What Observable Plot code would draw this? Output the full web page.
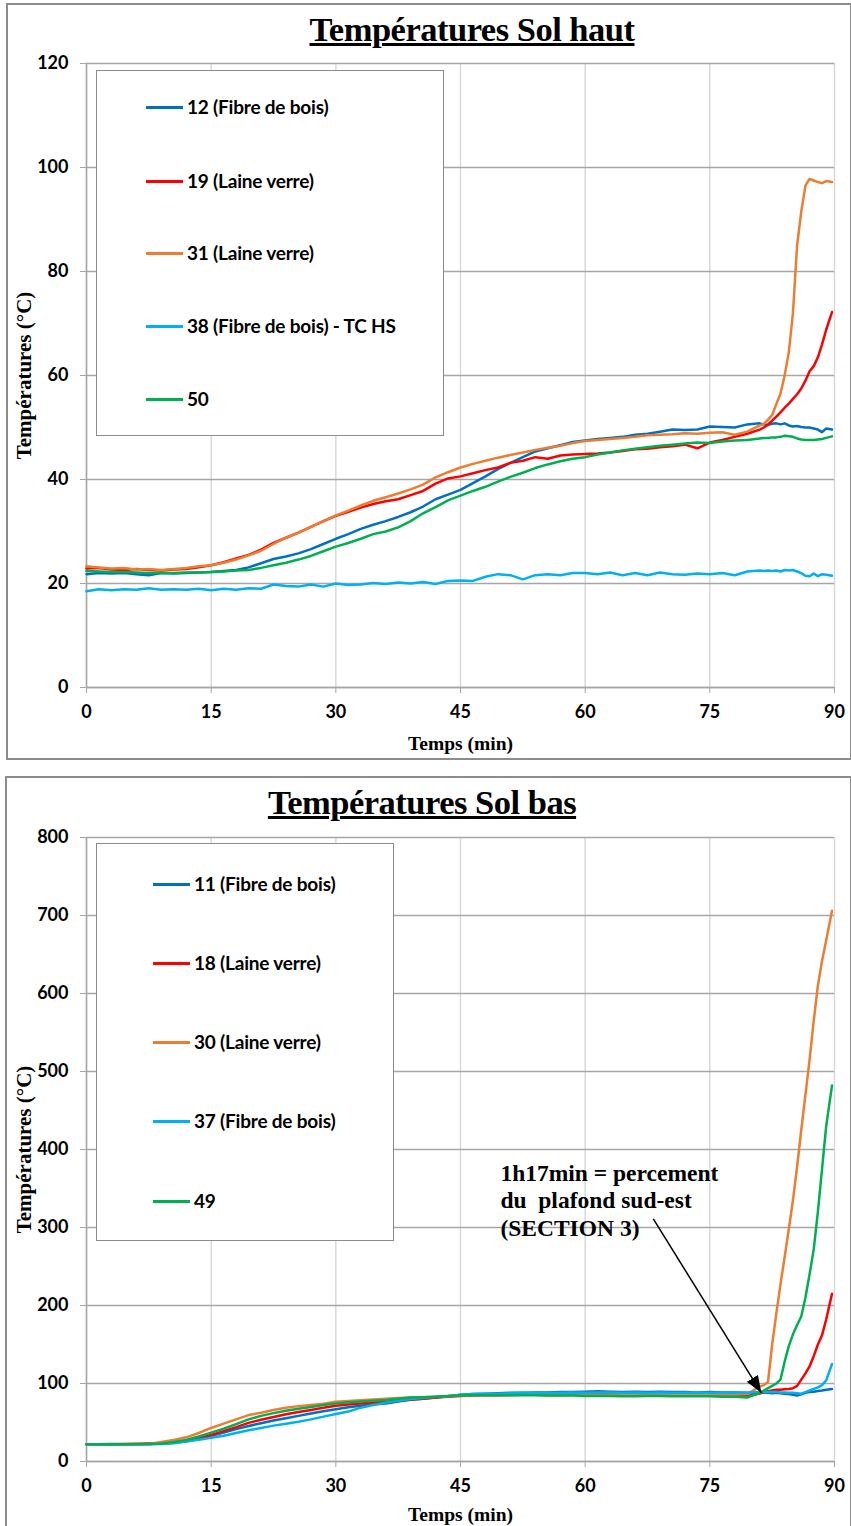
<!DOCTYPE html>
<html><head><meta charset="utf-8">
<script src="https://cdn.jsdelivr.net/npm/d3@7"></script>
<script src="https://cdn.jsdelivr.net/npm/@observablehq/plot@0.6"></script>
<style>
body{margin:0;background:#fff;}
#page{position:relative;width:851px;height:1526px;overflow:hidden;background:#fff;}
.panel{position:absolute;border:2px solid #8c8c8c;box-sizing:border-box;}
.title{position:absolute;font-family:"Liberation Serif","Times New Roman",serif;font-weight:bold;font-size:34.5px;line-height:38px;text-decoration:underline;text-decoration-thickness:3px;white-space:nowrap;transform:translateX(-50%);letter-spacing:-0.5px;}
.chart{position:absolute;left:0;}
.legend{position:absolute;background:#fff;border:1px solid #8c8c8c;box-sizing:border-box;}
.item{position:absolute;left:0;font-family:Lato,sans-serif;font-weight:bold;font-size:19px;line-height:22px;white-space:nowrap;transform:translateY(-50%);display:flex;align-items:center;letter-spacing:-0.2px;}
.item span.sw{display:inline-block;height:3px;width:37px;margin-right:4px;}
g[aria-label="x-axis label"] text{font-family:"Liberation Serif","Times New Roman",serif;font-weight:bold;font-size:19.5px;}
g[aria-label="y-axis label"] text{font-family:"Liberation Serif","Times New Roman",serif;font-weight:bold;font-size:21px;}
</style></head>
<body><div id="page"></div>
<script>
// ---- data ----
const minutes = [0,1.5,3,4.5,6,7.5,9,10.5,12,13.5,15,16.5,18,19.5,21,22.5,24,25.5,27,28.5,30,31.5,33,34.5,36,37.5,39,40.5,42,43.5,45,46.5,48,49.5,51,52.5,54,55.5,57,58.5,60,61.5,63,64.5,66,67.5,69,70.5,72,73.5,75,76.5,78,79.5,81,81.5,82,82.5,83,83.5,84,84.5,85,85.5,86,86.5,87,87.5,88,88.5,89,89.7];

const haut12 = [21.8,22.0,21.9,22.0,21.8,21.6,22.0,21.9,22.0,22.1, 22.2,22.4,22.6,23.1,23.9,24.7,25.2,25.8,26.6,27.6, 28.6,29.5,30.5,31.3,32.0,32.8,33.7,34.8,36.2,37.1, 38.0,39.3,40.6,42.0,43.2,44.3,45.4,46.0,46.6,47.2, 47.5,47.8,48.0,48.2,48.6,48.8,49.2,49.6,49.5,49.6, 50.2,50.1,50.0,50.6,50.8,50.6,50.5,50.7,50.8,50.6, 50.8,50.4,50.2,50.3,50.1,50.0,50.0,49.8,49.6,49.1, 49.8,49.6];
const haut19 = [22.9,23.0,22.7,22.6,22.8,22.6,22.5,22.7,22.8,23.1, 23.5,24.1,24.8,25.5,26.5,27.8,28.8,29.8,30.9,32.0, 33.0,33.8,34.6,35.3,35.8,36.2,37.0,37.8,39.2,40.2, 40.6,41.2,41.8,42.3,43.2,43.6,44.3,44.0,44.6,44.8, 44.9,45.0,45.2,45.5,45.8,45.9,46.2,46.4,46.7,46.0, 47.1,47.6,48.2,48.8,49.6,50.0,50.6,51.3,52.1,52.9, 53.8,54.6,55.5,56.4,57.5,59.0,60.8,61.8,63.5,66.0, 68.8,72.2];
const haut31 = [23.3,23.1,22.9,23.0,22.7,22.8,22.6,22.8,23.0,23.3, 23.5,24.0,24.6,25.4,26.3,27.6,28.8,29.8,30.9,32.0, 33.1,34.0,35.0,35.9,36.6,37.3,38.1,39.0,40.4,41.4, 42.3,43.0,43.6,44.2,44.7,45.2,45.7,46.1,46.5,47.0, 47.4,47.6,47.8,48.0,48.2,48.5,48.6,48.7,48.9,48.8, 49.0,49.1,48.6,49.2,50.4,50.7,51.5,52.4,54.5,56.5, 60.0,64.5,72.0,85.0,91.5,96.5,97.8,97.5,97.2,97.0, 97.4,97.2];
const haut38 = [18.5,18.9,18.7,18.9,18.8,19.1,18.8,18.9,18.8,19.0, 18.7,19.0,18.8,19.1,19.0,19.8,19.5,19.4,19.8,19.4, 20.0,19.7,19.8,20.1,19.9,20.2,20.0,20.3,19.9,20.5, 20.6,20.5,21.3,21.8,21.6,20.8,21.6,21.8,21.6,22.0, 22.0,21.8,22.1,21.6,22.0,21.6,22.1,21.8,21.7,21.9, 21.8,22.0,21.6,22.3,22.5,22.4,22.5,22.4,22.5,22.3, 22.6,22.5,22.6,22.3,22.0,21.5,21.4,21.9,21.4,21.8, 21.7,21.5];
const haut50 = [22.4,22.3,22.2,22.2,22.1,22.0,22.0,22.0,22.1,22.1, 22.2,22.3,22.5,22.6,23.0,23.5,24.0,24.6,25.3,26.2, 27.1,27.8,28.6,29.5,30.0,30.8,32.0,33.5,34.7,36.0, 36.9,37.8,38.6,39.6,40.5,41.3,42.2,42.9,43.5,44.0, 44.3,44.8,45.2,45.6,45.9,46.2,46.5,46.7,46.9,47.1, 47.0,47.3,47.5,47.6,47.9,48.0,48.0,48.1,48.1,48.2, 48.4,48.3,48.2,47.9,47.7,47.6,47.6,47.6,47.7,47.8, 48.0,48.3];

const bas11 = [22,22,22.5,22,22.5,22.5,23,24,26,29, 33,37,41.5,45.5,49,52.5,55.5,58.5,61.5,64.5, 67,69.5,71.5,73.5,74.5,77,79,80.5,82,83.5, 85.5,86.5,87,87.5,88,88,88.5,88.5,89,89, 89.5,90,89.5,89,89.5,89,89.5,89,89,88.5, 89,88.5,88.5,88,88,88,88,87.5,88,87.5, 87,86.5,85.5,84.5,86,88,89,89.5,90.5,91, 92,93];
const bas18 = [22,22,22,22.5,22.5,23,23,24.5,26.5,30, 34,39,44,49.5,53.5,57,60.5,63.5,66,69, 71.5,73,74.5,75.5,76.5,78,79.5,80.5,82,83, 84,84.5,85,85,85.5,85.5,86,85.5,86,86, 86,86.5,86,86,86.5,86,86,86.5,86,86, 86,85.5,85.5,84,87,89,90,91,92,92, 92.5,93,94,97,105,113,122,135,150,162, 182,215];
const bas30 = [22,22,22,22,22.5,22.5,25,27.5,31,36.5, 43,48.5,54,59.5,62.5,66,69,71,72.5,74, 76.5,77.5,78.5,79.5,80.5,81.5,82,82.5,83,83.5, 84.5,84.5,85,85,85,85.5,85.5,85,85,85.5, 85.5,85.5,85.5,86,86,85.5,85.5,86,86,86, 86,86,86,86.5,96,98,102,150,190,227, 262,298,335,378,425,470,515,565,610,642, 668,706];
const bas37 = [22,22,22,22,22,22,22.5,23.5,25.5,28, 30.5,33,36.5,40,43,46,48.5,51,54,57.5, 61,64,69,72.5,75.5,78,80,81.5,83,84, 85.5,86.5,87,87,87.5,88,87.5,88,88,88.5, 88,88.5,88.5,88,88.5,88,88.5,88,88,88.5, 88,88.5,88,88,89,89,89,89,89,88.5, 88.5,88,88,87.5,87,89,91,93,95,98, 104,125];
const bas49 = [22,22,22,22,22,22.5,23,25,27.5,32, 37,42,48,54,58.5,62,65,67.5,70,72.5, 74.5,76,77,78,79,80.5,82,82.5,83,84, 84.5,85,85,85,85,85,85,84.5,84.5,84.5, 84,84,84,83.5,83.5,84,84,83.5,83.5,83.5, 83.5,83,83,82,88,91,94,97,100,105, 128,148,163,175,186,210,240,272,320,375, 430,482];

const hautNames = ["12 (Fibre de bois)","19 (Laine verre)","31 (Laine verre)","38 (Fibre de bois) - TC HS","50"];
const basNames = ["11 (Fibre de bois)","18 (Laine verre)","30 (Laine verre)","37 (Fibre de bois)","49"];
const seriesColors = ["#0070C0","#FF0000","#ED7D31","#00B0F0","#00B050"];
const xTicks = [0,15,30,45,60,75,90];
const hautYTicks = [0,20,40,60,80,100,120];
const basYTicks = [0,100,200,300,400,500,600,700,800];
const titles = ["Températures Sol haut","Températures Sol bas"];
const xLabel = "Temps (min)";
const yLabel = "Températures (°C)";
const note = [{t:49.8, v:385, label:"1h17min = percement\ndu\u00a0 plafond sud-est\n(SECTION 3)"}];
const noteArrow = [{t1:68.2, v1:311, t2:81.2, v2:88}];

// ---- build ----
function rows(list, names){
  return list.flatMap((s,k)=>s.map((v,i)=>({t:minutes[i], v, name:names[k]})));
}
function filledHead(color){
  const ns="http://www.w3.org/2000/svg";
  const m=document.createElementNS(ns,"marker");
  m.setAttribute("viewBox","-17 -6.5 17 13");
  m.setAttribute("markerUnits","userSpaceOnUse");
  m.setAttribute("markerWidth","17");
  m.setAttribute("markerHeight","13");
  m.setAttribute("refX","0"); m.setAttribute("refY","0");
  m.setAttribute("orient","auto");
  const p=document.createElementNS(ns,"path");
  p.setAttribute("d","M-17,-6.5L0,0L-17,6.5Z");
  p.setAttribute("fill",color); p.setAttribute("stroke","none");
  m.appendChild(p);
  return m;
}
function chart({data, names, yTicks, height, marginTop, marginBottom, xLabelOffset, extra=[]}){
  return Plot.plot({
    width:851, height, marginLeft:86, marginRight:17, marginTop, marginBottom,
    style:{fontFamily:"Lato, sans-serif", fontSize:"18px", fontWeight:"bold", color:"#000", background:"transparent", overflow:"visible"},
    x:{domain:[0,90]},
    y:{domain:[0,yTicks[yTicks.length-1]]},
    color:{domain:names, range:seriesColors},
    marks:[
      Plot.gridX({ticks:xTicks, stroke:"#d9d9d9", strokeOpacity:1, strokeWidth:1.5}),
      Plot.gridY({ticks:yTicks, stroke:"#a6a6a6", strokeOpacity:1, strokeWidth:1.5}),
      Plot.ruleY([0],{stroke:"#a6a6a6", strokeWidth:1.5}),
      Plot.ruleX([0],{stroke:"#a6a6a6", strokeWidth:1.5}),
      Plot.axisX({ticks:xTicks, tickSize:6, tickPadding:12, stroke:"#a6a6a6", fill:"#000", label:xLabel, labelAnchor:"center", labelOffset:xLabelOffset, labelArrow:"none"}),
      Plot.axisY({ticks:yTicks, tickSize:6, tickPadding:12, stroke:"#a6a6a6", fill:"#000", label:yLabel, labelAnchor:"center", labelOffset:70, labelArrow:"none"}),
      Plot.line(data,{x:"t", y:"v", z:"name", stroke:"name", strokeWidth:2.5, curve:"linear"}),
      ...extra
    ]
  });
}

const page = document.getElementById("page");
function add(html){ const d=document.createElement("div"); d.innerHTML=html; const el=d.firstElementChild; page.appendChild(el); return el; }

// panels
add(`<div class="panel" style="left:6px;top:3px;width:846px;height:757px"></div>`);
add(`<div class="panel" style="left:5px;top:776px;width:847px;height:760px"></div>`);
add(`<div class="title" style="left:472px;top:10px">${titles[0]}</div>`);
add(`<div class="title" style="left:422px;top:783px">${titles[1]}</div>`);

const top1 = chart({data:rows([haut12,haut19,haut31,haut38,haut50],hautNames), names:hautNames, yTicks:hautYTicks, height:720, marginTop:23, marginBottom:73, xLabelOffset:62});
const w1 = add(`<div class="chart" style="top:40px"></div>`); w1.appendChild(top1);

const textMark = Plot.text(note,{x:"t", y:"v", text:"label", textAnchor:"start", lineAnchor:"top", lineHeight:1.17, fontSize:23.5, fontFamily:"Liberation Serif, Times New Roman, serif", fontWeight:"bold", fill:"#000"});
function makeBottom(arrowMark){
  return chart({data:rows([bas11,bas18,bas30,bas37,bas49],basNames), names:basNames, yTicks:basYTicks, height:711, marginTop:22, marginBottom:65, xLabelOffset:59,
    extra:[arrowMark, textMark]});
}
let bot;
try {
  bot = makeBottom(Plot.link(noteArrow,{x1:"t1", y1:"v1", x2:"t2", y2:"v2", stroke:"#000", strokeWidth:1.5, markerEnd:filledHead}));
} catch(e) {
  bot = makeBottom(Plot.arrow(noteArrow,{x1:"t1", y1:"v1", x2:"t2", y2:"v2", stroke:"#000", strokeWidth:1.5, headLength:14}));
}
const w2 = add(`<div class="chart" style="top:815px"></div>`); w2.appendChild(bot);

// legends
function legend(names, box, ys, lineLeft){
  const lg = add(`<div class="legend" style="left:${box.left}px;top:${box.top}px;width:${box.width}px;height:${box.height}px"></div>`);
  names.forEach((n,i)=>{
    const it=document.createElement("div"); it.className="item";
    it.style.top=(ys[i]-box.top)+"px"; it.style.left=(lineLeft-box.left)+"px";
    it.innerHTML=`<span class="sw" style="background:${seriesColors[i]}"></span>${n}`;
    lg.appendChild(it);
  });
}
legend(hautNames,{left:96,top:70,width:348,height:366},[106,180,252,325,398],145);
legend(basNames,{left:96,top:843,width:298,height:398},[883,962,1041,1120,1200],152);
</script></body></html>
